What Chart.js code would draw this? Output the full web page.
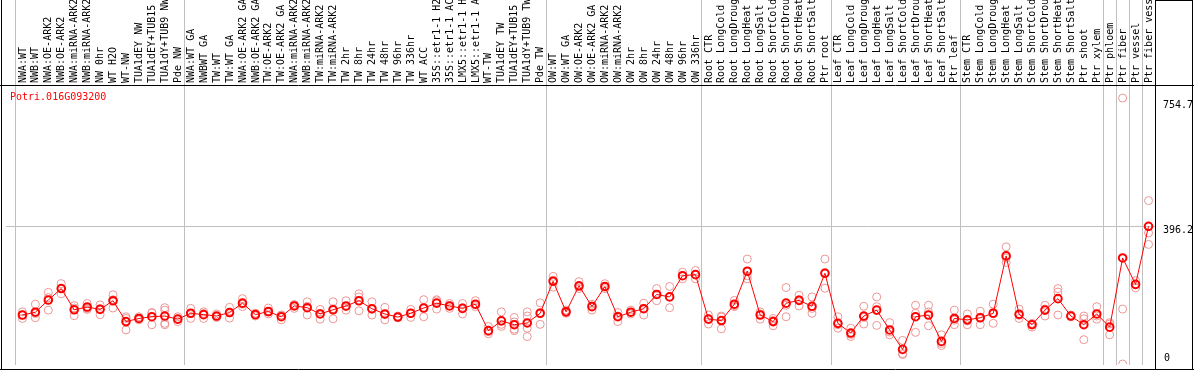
<!DOCTYPE html>
<html>
<head>
<meta charset="utf-8">
<script src="https://cdn.jsdelivr.net/npm/chart.js@4.4.1/dist/chart.umd.min.js"></script>
<style>
  html, body { margin: 0; padding: 0; background: #fff; }
  canvas { display: block; }
</style>
</head>
<body>
<canvas id="exprChart" width="1194" height="370"></canvas>
<script>
// expression profile — one gene across poplar samples

const geneId = "Potri.016G093200";

const sampleLabels = [
  "NWA:WT", "NWB:WT", "NWA:OE-ARK2", "NWB:OE-ARK2", "NWA:miRNA-ARK2", "NWB:miRNA-ARK2",
  "NW 0hr", "WT H2O", "WT-NW", "TUA1dEY NW", "TUA1dEY+TUB15 NW", "TUA1dY+TUB9 NW", "Pde NW",
  "NWA:WT GA", "NWBWT GA", "TW:WT", "TW:WT GA", "NWA:OE-ARK2 GA", "NWB:OE-ARK2 GA",
  "TW:OE-ARK2", "TW:OE-ARK2 GA", "NWA:miRNA-ARK2 GA", "NWB:miRNA-ARK2 GA", "TW:miRNA-ARK2",
  "TW:miRNA-ARK2 GA", "TW 2hr", "TW 8hr", "TW 24hr", "TW 48hr", "TW 96hr", "TW 336hr",
  "WT ACC", "35S::etr1-1 H2O", "35S::etr1-1 ACC", "LMX5::etr1-1 H2O", "LMX5::etr1-1 ACC",
  "WT-TW", "TUA1dEY TW", "TUA1dEY+TUB15 TW", "TUA1dY+TUB9 TW", "Pde TW",
  "OW:WT", "OW:WT GA", "OW:OE-ARK2", "OW:OE-ARK2 GA", "OW:miRNA-ARK2", "OW:miRNA-ARK2 GA",
  "OW 2hr", "OW 8hr", "OW 24hr", "OW 48hr", "OW 96hr", "OW 336hr",
  "Root CTR", "Root LongCold", "Root LongDrought", "Root LongHeat", "Root LongSalt",
  "Root ShortCold", "Root ShortDrought", "Root ShortHeat", "Root ShortSalt", "Ptr root",
  "Leaf CTR", "Leaf LongCold", "Leaf LongDrought", "Leaf LongHeat", "Leaf LongSalt",
  "Leaf ShortCold", "Leaf ShortDrought", "Leaf ShortHeat", "Leaf ShortSalt", "Ptr leaf",
  "Stem CTR", "Stem LongCold", "Stem LongDrought", "Stem LongHeat", "Stem LongSalt",
  "Stem ShortCold", "Stem ShortDrought", "Stem ShortHeat", "Stem ShortSalt", "Ptr shoot",
  "Ptr xylem", "Ptr phloem", "Ptr fiber", "Ptr vessel", "Ptr fiber vessel"
];

const meanValues = [
  141, 149, 184, 217, 156, 164, 157, 182, 122, 131, 136, 138, 129,
  146, 142, 138, 148, 175, 142, 151, 136, 167, 162, 144, 156, 167, 182, 159, 144, 135, 146,
  161, 175, 167, 160, 172, 96, 124, 113, 118, 146,
  238, 150, 225, 165, 223, 136, 149, 159, 200, 193, 254, 257,
  129, 125, 172, 267, 141, 122, 175, 183, 166, 261,
  117, 89, 138, 155, 98, 42, 136, 141, 65, 131,
  127, 133, 146, 311, 143, 113, 155, 188, 138, 113, 144,
  106, 305, 229, 396.2
];

const rep1 = [
  150, 172, 206, 231, 168, 174, 170, 199, 136, 136, 148, 162, 136,
  160, 150, 144, 163, 188, 146, 161, 141, 171, 179, 157, 179, 182, 202, 179, 163, 138, 157,
  185, 185, 174, 174, 182, 108, 150, 134, 150, 176,
  252, 155, 237, 172, 231, 148, 155, 175, 217, 223, 264, 269,
  141, 138, 183, 302, 150, 131, 220, 198, 193, 302,
  136, 103, 166, 193, 119, 68, 169, 169, 84, 155,
  144, 152, 172, 337, 158, 117, 169, 217, 141, 138, 165,
  119, 765, 240, 470
];

const rep2 = [
  131, 133, 155, 202, 139, 157, 142, 161, 98, 127, 113, 155, 122,
  131, 131, 134, 132, 165, 138, 144, 127, 160, 141, 129, 130, 155, 193, 141, 127, 133, 134,
  136, 158, 160, 144, 165, 87, 108, 100, 138, 114,
  221, 146, 217, 155, 217, 122, 144, 141, 182, 162, 245, 245,
  115, 101, 165, 245, 129, 110, 136, 167, 146, 218,
  103, 79, 115, 165, 84, 27, 146, 150, 59, 113,
  113, 113, 117, 292, 131, 106, 138, 207, 136, 70, 129,
  84, 158, 219, 377
];

const rep3 = [
  141, 145, 191, 217, 161, 160, 159, 185, 131, 131, 147, 117, 129,
  146, 145, 136, 148, 172, 142, 149, 140, 170, 166, 146, 159, 165, 153, 157, 142, 134, 146,
  162, 182, 168, 162, 170, 93, 114, 96, 103, 148,
  241, 150, 222, 167, 222, 138, 149, 160, 200, 194, 254, 258,
  130, 135, 168, 254, 144, 125, 169, 185, 160, 263,
  113, 85, 134, 111, 92, 30, 91, 110, 53, 126,
  124, 135, 148, 305, 140, 115, 158, 141, 138, 130, 138,
  115, 0, 228, 344
];

const rep4 = [
  null, null, null, null, null, null, null, null, null, null, null, 113, null,
  null, null, null, null, null, null, null, null, null, null, null, null, null, null, null, null, null, null,
  null, null, null, null, null, null, null, 121, 79, null,
  null, null, null, null, null, null, null, null, null, null, null, null,
  null, null, null, null, null, null, null, null, null, null,
  null, null, null, null, null, null, null, null, null, null,
  null, null, null, null, null, null, null, null, null, null, null,
  null, null, null, null
];

// group separators sit between samples
const groupEdges = [-0.5, 12.5, 40.5, 52.5, 62.5, 72.5, 83.5, 84.5, 85.5, 86.5];
const yTickValues = [0, 396.2, 754.7];

const monoFont = "10px 'DejaVu Sans Mono', monospace";

const meanPoints = meanValues.map((v, i) => ({ x: i, y: v }));
const repPoints = [];
[rep1, rep2, rep3, rep4].forEach(rep => {
  rep.forEach((v, i) => { if (v != null) repPoints.push({ x: i, y: v }); });
});

// grey separators + the mid gridline, under the points
const backdropPlugin = {
  id: "backdrop",
  beforeDatasetsDraw(chart) {
    const { ctx, chartArea: { left, right, bottom }, scales: { x, y } } = chart;
    ctx.save();
    ctx.strokeStyle = "#c0c0c0";
    ctx.lineWidth = 1;
    groupEdges.forEach(e => {
      const px = Math.floor(x.getPixelForValue(e)) + 0.5;
      ctx.beginPath();
      ctx.moveTo(px, 0);
      ctx.lineTo(px, bottom + 1);
      ctx.stroke();
    });
    const gy = Math.floor(y.getPixelForValue(yTickValues[1])) + 0.5;
    ctx.beginPath();
    ctx.moveTo(left, gy);
    ctx.lineTo(right, gy);
    ctx.stroke();
    ctx.restore();
  }
};

// frame, sample names, y labels, gene id
const framePlugin = {
  id: "frame",
  afterDraw(chart) {
    const { ctx, width, height, chartArea: { top, right, bottom }, scales: { x, y } } = chart;
    ctx.save();
    ctx.strokeStyle = "#000";
    ctx.lineWidth = 1;
    ctx.beginPath();
    ctx.moveTo(1.5, 0); ctx.lineTo(1.5, height);
    ctx.moveTo(0, top + 0.5); ctx.lineTo(width, top + 0.5);
    ctx.moveTo(right + 0.5, 0); ctx.lineTo(right + 0.5, height);
    ctx.moveTo(width - 1.5, 0); ctx.lineTo(width - 1.5, height);
    ctx.moveTo(right, 0.5); ctx.lineTo(width - 1, 0.5);
    ctx.moveTo(0, height - 0.5); ctx.lineTo(width, height - 0.5);
    ctx.stroke();

    ctx.font = monoFont;
    ctx.fillStyle = "#000";
    ctx.textAlign = "left";
    ctx.textBaseline = "middle";
    sampleLabels.forEach((lab, i) => {
      ctx.save();
      ctx.translate(x.getPixelForValue(i) + 0.5, top - 2);
      ctx.rotate(-Math.PI / 2);
      ctx.fillText(lab, 0, 0);
      ctx.restore();
    });

    yTickValues.forEach(v => {
      const py = Math.min(y.getPixelForValue(v) + 4, bottom - 6);
      ctx.fillText(v === 0 ? "0" : v.toFixed(1), right + (v === 0 ? 9 : 8), py);
    });

    ctx.fillStyle = "#ff0000";
    ctx.fillText(geneId, 10, top + 12);
    ctx.restore();
  }
};

new Chart(document.getElementById("exprChart"), {
  type: "scatter",
  plugins: [backdropPlugin, framePlugin],
  data: {
    datasets: [
      {
        type: "line",
        label: "mean",
        data: meanPoints,
        borderColor: "#ff0000",
        borderWidth: 1,
        pointRadius: 3.8,
        pointBorderWidth: 2,
        pointBorderColor: "#ff0000",
        pointBackgroundColor: "rgba(0,0,0,0)",
        tension: 0,
        order: 0
      },
      {
        label: "replicates",
        data: repPoints,
        pointRadius: 4,
        borderWidth: 1,
        borderColor: "rgb(236,150,150)",
        backgroundColor: "rgba(0,0,0,0)",
        order: 1
      }
    ]
  },
  options: {
    responsive: false,
    animation: false,
    events: [],
    layout: { padding: { top: 85, left: 1, right: 39, bottom: 2 } },
    plugins: {
      legend: { display: false },
      tooltip: { enabled: false },
      title: { display: false }
    },
    scales: {
      x: {
        type: "linear",
        min: 87.5 - 1154 / 13,
        max: 87.5,
        display: false
      },
      y: {
        type: "linear",
        min: 0,
        max: 802.6,
        display: false
      }
    }
  }
});
</script>
</body>
</html>
